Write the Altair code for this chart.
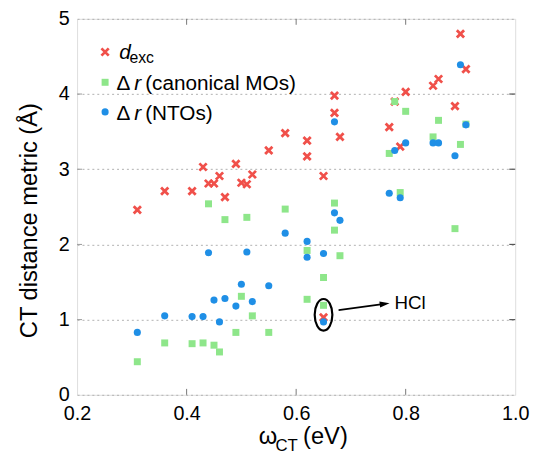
import altair as alt
import pandas as pd

FONT = "Liberation Sans"
RED = "#f0504a"
GREEN = "#8ee68a"
BLUE = "#1f8fe6"

# omega_CT (eV) for each system
omega = [0.31, 0.36, 0.41, 0.43, 0.44, 0.45, 0.46, 0.47, 0.49, 0.50,
         0.51, 0.52, 0.55, 0.58, 0.62, 0.62, 0.65, 0.65, 0.67, 0.67,
         0.68, 0.77, 0.78, 0.79, 0.80, 0.85, 0.86, 0.89, 0.90, 0.91]
# d_exc (Å)
d_exc = [2.46, 2.71, 2.71, 3.03, 2.81, 2.81, 2.91, 2.63, 3.07, 2.82,
         2.80, 2.93, 3.25, 3.48, 3.38, 3.17, 2.91, 1.03, 3.98, 3.75,
         3.43, 3.56, 3.90, 3.30, 4.03, 4.11, 4.20, 3.84, 4.80, 4.33]
# Δr canonical MOs (Å)
dr_can = [0.44, 0.69, 0.68, 0.69, 2.54, 0.66, 0.57, 2.33, 0.83, 1.31,
          2.36, 1.05, 0.83, 2.47, 1.92, 1.27, 1.56, 1.19, 2.55, 2.19,
          1.85, 3.21, 3.90, 2.69, 3.77, 3.43, 3.65, 2.21, 3.33, 3.60]
# Δr NTOs (Å)
dr_nto = [0.83, 1.05, 1.04, 1.04, 1.89, 1.26, 0.97, 1.28, 1.18, 1.47,
          1.90, 1.24, 1.45, 2.15, 2.04, 1.83, 1.88, 0.97, 3.63, 2.42,
          2.32, 2.68, 3.25, 2.62, 3.35, 3.35, 3.35, 3.18, 4.39, 3.59]

x_ticks = [0.2, 0.4, 0.6, 0.8, 1.0]
y_ticks = [0, 1, 2, 3, 4, 5]
inner_x_ticks = [0.4, 0.6, 0.8]
inner_y_ticks = [1, 2, 3, 4]

# HCl annotation
hcl_label = "HCl"
hcl_omega = 0.65
hcl_center = 1.064

xs = alt.Scale(domain=[0.2, 1.0], nice=False, zero=False)
ys = alt.Scale(domain=[0, 5], nice=False, zero=False)
xaxis = alt.Axis(values=x_ticks, format=".1f", labelFontSize=20, labelPadding=9,
                 ticks=False, tickSize=0, domain=False, grid=False, title=None,
                 labelFlush=False, labelColor="black", labelFont=FONT)
yaxis = alt.Axis(values=y_ticks, format="d", labelFontSize=20, labelPadding=8,
                 ticks=False, tickSize=0, domain=False, grid=True, gridDash=[2, 3],
                 gridColor="#b0b0b0", gridWidth=1,
                 title="CT distance metric (Å)", titleFontSize=24,
                 titleFontWeight="normal", titleX=-36, titleY=204,
                 titleFont=FONT, titleColor="black", labelFlush=False,
                 labelColor="black", labelFont=FONT)
X = alt.X("x:Q", scale=xs, axis=xaxis)
Y = alt.Y("y:Q", scale=ys, axis=yaxis)

df_red = pd.DataFrame({"x": omega, "y": d_exc})
df_green = pd.DataFrame({"x": omega, "y": dr_can})
df_blue = pd.DataFrame({"x": omega, "y": dr_nto})

XSHAPE = "M-1,-1L1,1M-1,1L1,-1"
XSIZE, SQSIZE, CSIZE = 54, 50, 52

red = alt.Chart(df_red).mark_point(shape=XSHAPE, filled=False, stroke=RED,
                                   strokeWidth=2.8, size=XSIZE, opacity=1).encode(x=X, y=Y)
green = alt.Chart(df_green).mark_square(size=SQSIZE, color=GREEN, opacity=1).encode(x=X, y=Y)
blue = alt.Chart(df_blue).mark_circle(size=CSIZE, color=BLUE, opacity=1).encode(x=X, y=Y)

# ellipse around HCl
df_ell = pd.DataFrame({"x": [hcl_omega], "y": [hcl_center]})
ellipse = alt.Chart(df_ell).mark_point(
    shape="M0,-1A0.56,1,0,1,1,0,1A0.56,1,0,1,1,0,-1Z",
    filled=False, stroke="black", strokeWidth=2.2, size=1024, opacity=1
).encode(x=X, y=Y)

# arrow
df_arrow = pd.DataFrame({"x": [0.6775], "y": [1.127], "x2": [0.758], "y2": [1.206]})
arrow_line = alt.Chart(df_arrow).mark_rule(color="black", strokeWidth=1.8).encode(
    x=X, y=Y, x2="x2:Q", y2="y2:Q")
df_head = pd.DataFrame({"x": [0.7616], "y": [1.21]})
arrow_head = alt.Chart(df_head).mark_point(
    shape="M1,0L-1,-0.6L-1,0.6Z", filled=True, color="black", size=100,
    angle=352.4, opacity=1).encode(x=X, y=Y)
df_hcl = pd.DataFrame({"x": [0.7796], "y": [1.14], "t": [hcl_label]})
hcl_text = alt.Chart(df_hcl).mark_text(align="left", baseline="alphabetic",
                                       fontSize=19, font=FONT, color="black").encode(
    x=X, y=Y, text="t:N")

# inward ticks
df_xt = pd.DataFrame({"x": inner_x_ticks})
df_yt = pd.DataFrame({"y": inner_y_ticks})
tick_bottom = alt.Chart(df_xt).mark_rule(color="#777", strokeWidth=1).encode(
    x=X, y=alt.value(381), y2=alt.value(375))
tick_top = alt.Chart(df_xt).mark_rule(color="#777", strokeWidth=1).encode(
    x=X, y=alt.value(0), y2=alt.value(6))
tick_right = alt.Chart(df_yt).mark_rule(color="#555", strokeWidth=1.2).encode(
    y=Y, x=alt.value(444), x2=alt.value(438))
tick_left = alt.Chart(df_yt).mark_rule(color="#999", strokeWidth=1).encode(
    y=Y, x=alt.value(0), x2=alt.value(5))

# legend (drawn manually for mixed styles)
one = pd.DataFrame({"a": [0]})
def txt(s, px, py, size=21, style="normal"):
    return alt.Chart(one).mark_text(text=s, align="left", baseline="alphabetic",
                                    fontSize=size, font=FONT, fontStyle=style,
                                    color="black").encode(x=alt.value(px), y=alt.value(py))

leg_red = alt.Chart(one).mark_point(shape=XSHAPE, filled=False, stroke=RED,
                                    strokeWidth=2.8, size=XSIZE, opacity=1).encode(
    x=alt.value(28.4), y=alt.value(33.6))
leg_green = alt.Chart(one).mark_square(size=SQSIZE, color=GREEN, opacity=1).encode(
    x=alt.value(28.4), y=alt.value(64.3))
leg_blue = alt.Chart(one).mark_circle(size=CSIZE, color=BLUE, opacity=1).encode(
    x=alt.value(28.4), y=alt.value(94.3))

legend = [
    leg_red, leg_green, leg_blue,
    txt("d", 42.7, 40.3, 21, "italic"),
    txt("exc", 53, 44.6, 16),
    txt("Δ", 40, 71.6, 21),
    txt("r", 58, 71.6, 21, "italic"),
    txt("(canonical MOs)", 69, 71.6, 21),
    txt("Δ", 40, 102.3, 21),
    txt("r", 58, 102.3, 21, "italic"),
    txt("(NTOs)", 69, 102.3, 21),
]

# x-axis title with subscript
xtitle = [
    txt("ω", 184, 431, 24),
    txt("CT", 201, 438, 17),
    txt("(eV)", 229, 431, 24),
]

chart = alt.layer(
    red, green, blue, ellipse, arrow_line, arrow_head, hcl_text,
    tick_bottom, tick_top, tick_right, tick_left,
    *legend, *xtitle
).properties(
    width=444, height=381,
    padding={"left": 70, "top": 8, "right": 16, "bottom": 58},
    autosize=alt.AutoSizeParams(type="none"),
).configure_view(
    stroke="#333", strokeWidth=1.5
).configure(
    background="white"
)

chart.save("out.html", embed_options={"renderer": "svg", "actions": False})
